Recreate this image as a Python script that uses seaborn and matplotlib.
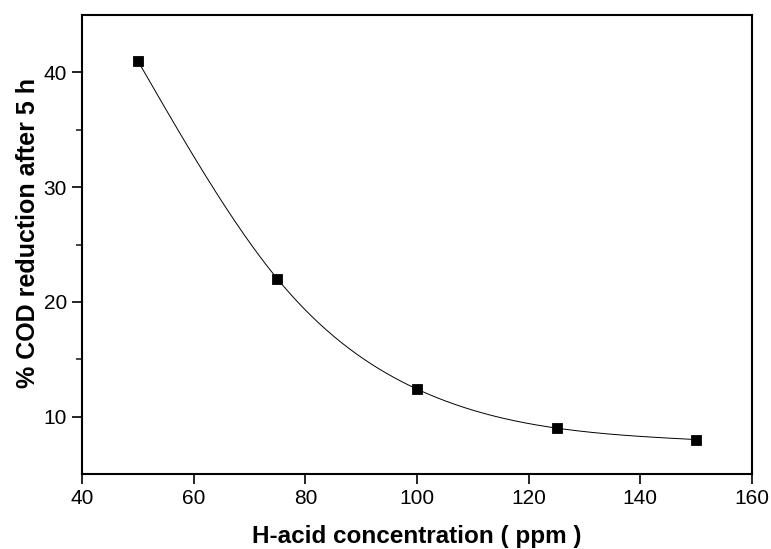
import numpy as np
import pandas as pd
import matplotlib
matplotlib.use("Agg")
import matplotlib.pyplot as plt
import seaborn as sns
from matplotlib.ticker import FixedLocator

conc = [50, 75, 100, 125, 150]
cod_red = [41.0, 22.0, 12.4, 9.0, 8.0]
x_ticks = [40, 60, 80, 100, 120, 140, 160]
y_ticks = [10, 20, 30, 40]
y_minor = [15, 25, 35]

sns.set_theme(style="white")
plt.rcParams['font.family'] = ['Liberation Sans', 'DejaVu Sans']

df = pd.DataFrame({"conc": conc, "cod": cod_red})

def natural_spline(x, y, n=300):
    x = np.asarray(x, float); y = np.asarray(y, float)
    k = len(x); h = np.diff(x)
    A = np.zeros((k, k)); b = np.zeros(k)
    A[0, 0] = A[-1, -1] = 1
    for i in range(1, k - 1):
        A[i, i - 1] = h[i - 1]; A[i, i] = 2 * (h[i - 1] + h[i]); A[i, i + 1] = h[i]
        b[i] = 3 * ((y[i + 1] - y[i]) / h[i] - (y[i] - y[i - 1]) / h[i - 1])
    c = np.linalg.solve(A, b)
    xs = np.linspace(x[0], x[-1], n); ys = np.empty_like(xs)
    for j, xv in enumerate(xs):
        i = min(np.searchsorted(x, xv, side='right') - 1, k - 2)
        d = xv - x[i]
        bb = (y[i + 1] - y[i]) / h[i] - h[i] * (2 * c[i] + c[i + 1]) / 3
        dd = (c[i + 1] - c[i]) / (3 * h[i])
        ys[j] = y[i] + bb * d + c[i] * d ** 2 + dd * d ** 3
    return xs, ys

fig = plt.figure(figsize=(7.71, 5.49), dpi=100)
ax = fig.add_axes([0.1064, 0.1366, 0.869, 0.836])

xs, ys = natural_spline(conc, cod_red)
sns.lineplot(x=xs, y=ys, ax=ax, color='black', linewidth=0.7, sort=False)
sns.scatterplot(data=df, x="conc", y="cod", ax=ax, marker='s', color='black',
                s=55, edgecolor='black', zorder=3)

ax.set_xlim(40, 160)
ax.set_ylim(5, 45)
ax.set_xticks(x_ticks)
ax.set_yticks(y_ticks)
ax.yaxis.set_minor_locator(FixedLocator(y_minor))
ax.tick_params(axis='both', which='major', direction='out', length=7, width=1.2,
               labelsize=15, color='black', labelcolor='black', bottom=True, left=True, pad=4)
ax.tick_params(axis='y', which='minor', direction='out', length=4, width=1.2, left=True)
for s in ax.spines.values():
    s.set_linewidth(1.5)
    s.set_color('black')

ax.set_xlabel("H-acid concentration ( ppm )", fontsize=17.5, fontweight='bold',
              labelpad=12, color='black')
ax.set_ylabel("% COD reduction after 5 h", fontsize=18, fontweight='bold',
              color='black')
ax.yaxis.set_label_coords(-0.063, 0.525)

fig.savefig("out.png", dpi=100)
